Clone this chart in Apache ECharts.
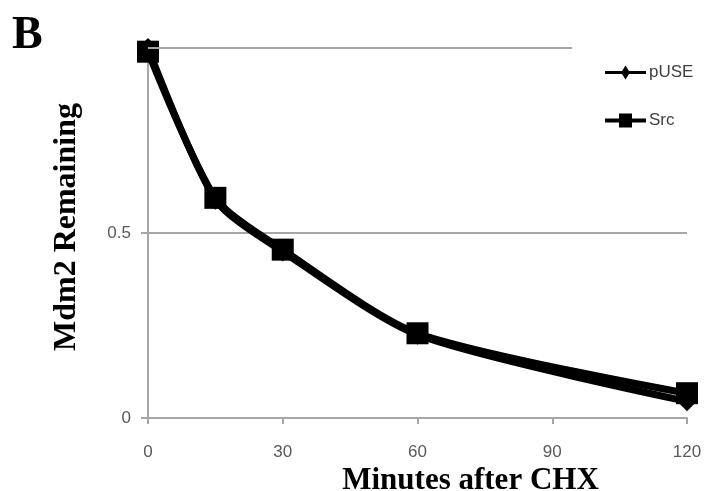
<!DOCTYPE html>
<html>
<head>
<meta charset="utf-8">
<script src="https://cdn.jsdelivr.net/npm/echarts@6/dist/echarts.min.js"></script>
<style>
html,body{margin:0;padding:0;background:#fff;}
#chart{width:706px;height:491px;}
</style>
</head>
<body>
<div id="chart"></div>
<script>
const minutes = [0, 15, 30, 60, 120];
const pUSE = [1.0, 0.59, 0.45, 0.225, 0.045];
const src = [0.99, 0.595, 0.455, 0.229, 0.067];
const xTicks = [0, 30, 60, 90, 120];
const yTicks = [0, 0.5, 1];
const panelLabel = 'B';
const xTitle = 'Minutes after CHX';
const yTitle = 'Mdm2 Remaining';

const chart = echarts.init(document.getElementById('chart'));
const sans = 'Liberation Sans';
const serif = 'Liberation Serif';
chart.setOption({
  animation: false,
  backgroundColor: '#fff',
  title: {
    text: panelLabel, left: 7, top: 8,
    textStyle: {fontFamily: serif, fontWeight: 'bold', fontSize: 46, color: '#000'}
  },
  legend: {
    orient: 'vertical', left: 600, top: 59, itemWidth: 41, itemHeight: 14, itemGap: 31,
    textStyle: {fontFamily: sans, fontSize: 17, color: '#404040', padding: [0,0,0,-2]},
    data: [
      {name: 'pUSE', icon: 'path://M0,5.5 L17,5.5 L20.5,0 L24,5.5 L41,5.5 L41,8.5 L24,8.5 L20.5,14 L17,8.5 L0,8.5 Z'},
      {name: 'Src', icon: 'path://M0,5 L14,5 L14,0 L27,0 L27,5 L41,5 L41,9 L27,9 L27,14 L14,14 L14,9 L0,9 Z'}
    ],
    itemStyle: {color: '#000'}
  },
  grid: {left: 148, right: 19, top: 48, bottom: 73, containLabel: false, outerBoundsMode: 'none'},
  xAxis: {
    type: 'value', min: 0, max: 120, interval: 30,
    axisLine: {show: true, lineStyle: {color: '#a6a6a6', width: 2}},
    axisTick: {show: true, length: 6, lineStyle: {color: '#a6a6a6', width: 2}},
    axisLabel: {fontFamily: sans, fontSize: 17, color: '#595959', margin: 26,
      formatter: v => xTicks.includes(v) ? String(v) : ''},
    splitLine: {show: false},
    name: xTitle, nameLocation: 'middle', nameGap: 46,
    nameTextStyle: {fontFamily: serif, fontWeight: 'bold', fontSize: 31, color: '#000', padding: [0,0,0,106]}
  },
  yAxis: {
    type: 'value', min: 0, max: 1, interval: 0.5,
    axisLine: {show: true, lineStyle: {color: '#a6a6a6', width: 2}},
    axisTick: {show: true, length: 7, lineStyle: {color: '#a6a6a6', width: 2}},
    axisLabel: {fontFamily: sans, fontSize: 17, color: '#595959', margin: 17,
      formatter: v => (v === yTicks[2]) ? '' : String(v)},
    splitLine: {show: true, showMaxLine: false, lineStyle: {color: '#a6a6a6', width: 2}},
    name: yTitle, nameLocation: 'middle', nameGap: 51,
    nameTextStyle: {fontFamily: serif, fontWeight: 'bold', fontSize: 32, color: '#000', padding: [0,0,14,12]}
  },
  series: [
    {
      name: 'pUSE', type: 'line', smooth: 0.25,
      data: minutes.map((m, i) => [m, pUSE[i]]),
      symbol: 'diamond', symbolSize: 20,
      lineStyle: {color: '#000', width: 7},
      itemStyle: {color: '#000'},
      markLine: {
        silent: true, symbol: 'none', label: {show: false},
        lineStyle: {color: '#a6a6a6', width: 2, type: 'solid'},
        data: [[{coord: [0, 1]}, {coord: [94.4, 1]}]]
      },
      z: 3
    },
    {
      name: 'Src', type: 'line', smooth: 0.25,
      data: minutes.map((m, i) => [m, src[i]]),
      symbol: 'rect', symbolSize: 22,
      lineStyle: {color: '#000', width: 7},
      itemStyle: {color: '#000'},
      z: 4
    }
  ]
});
</script>
</body>
</html>
